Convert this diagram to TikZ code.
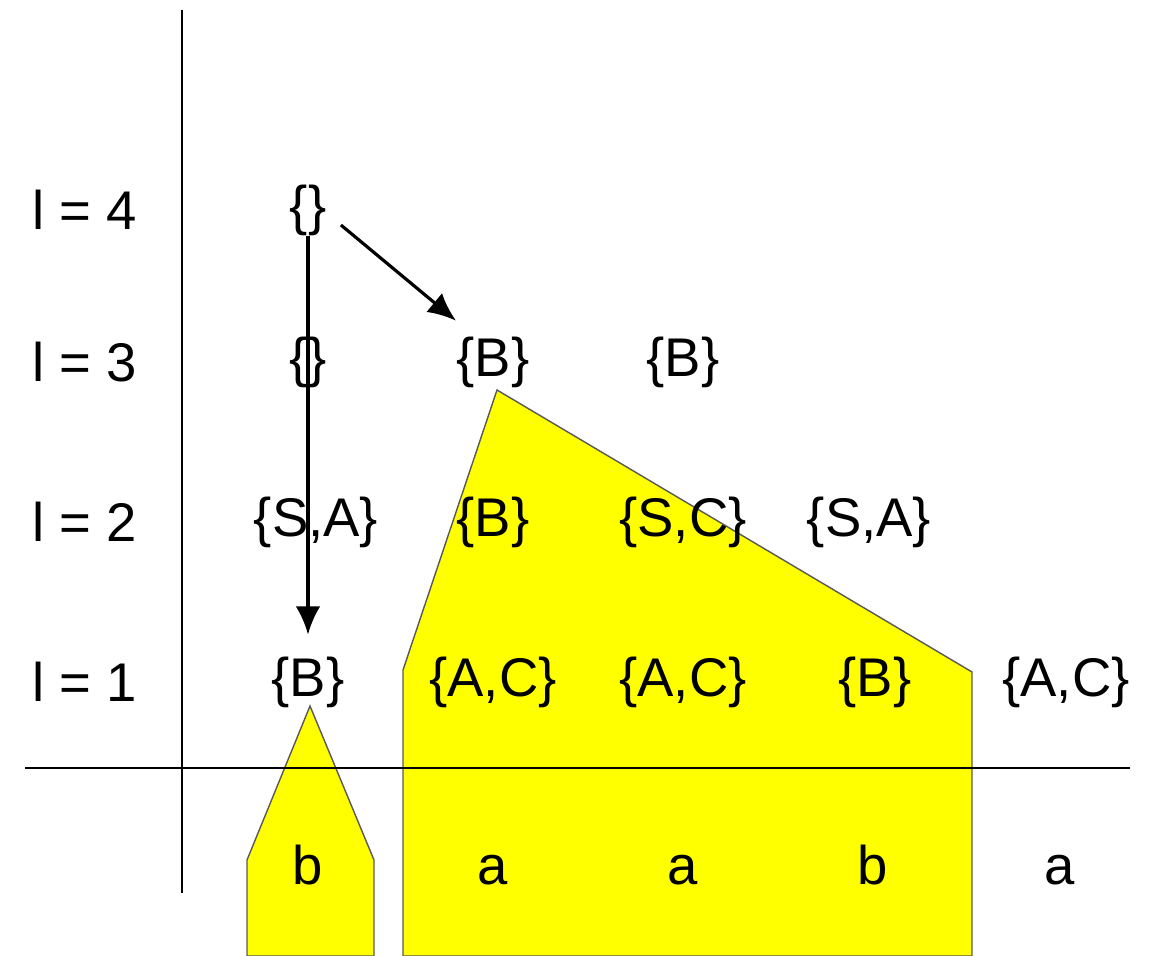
\documentclass[tikz,border=0pt]{standalone}
\usepackage{fontspec}
\setmainfont{Liberation Sans}
\usetikzlibrary{arrows.meta,positioning}
\definecolor{myyellow}{RGB}{255,255,0}
\colorlet{myink}{black}
\begin{document}
\begin{tikzpicture}[
    font=\fontsize{15.5}{18}\selectfont,
    cell/.style={inner sep=0pt, text height=11.3pt, text depth=3.3pt, text=myink},
    lvl/.style={inner sep=0pt, text=myink},
    axis/.style={line width=0.7pt, draw=myink},
    area/.style={fill=myyellow, draw=black!65, line width=0.4pt},
    arr/.style={-{Latex[length=8pt,width=7pt]}, line width=0.9pt, draw=myink},
  ]
  \useasboundingbox (0,0) rectangle (11.52,9.56);

  % ------------------------------------------------------------------ shaded spans
  \path[area] (2.47,0) -- (2.47,0.96) -- (3.10,2.50) -- (3.74,0.96) -- (3.74,0) -- cycle;
  \path[area] (4.03,0) -- (4.03,2.86) -- (4.97,5.66) -- (9.72,2.84) -- (9.72,0) -- cycle;

  % ------------------------------------------------------------------ axes
  \draw[axis] (1.82,9.46) -- (1.82,0.63);
  \draw[axis] (0.25,1.88) -- (11.30,1.88);

  % ------------------------------------------------------------------ level labels
  \foreach \n/\y in {1/2.74, 2/4.34, 3/5.94, 4/7.46}
    \node[lvl] (l\n) at (0.85,\y) {l = \n};

  % ------------------------------------------------------------------ table
  \node[cell] (n41) at (3.08,7.46) {\{\}};

  \node[cell] (n31) at (3.08,5.94) {\{\}};
  \node[cell] (n32) at (4.93,5.94) {\{B\}};
  \node[cell] (n33) at (6.83,5.94) {\{B\}};

  \node[cell] (n21) at (3.16,4.34) {\{S,A\}};
  \node[cell] (n22) at (4.93,4.34) {\{B\}};
  \node[cell] (n23) at (6.83,4.34) {\{S,C\}};
  \node[cell] (n24) at (8.69,4.34) {\{S,A\}};

  \node[cell] (n11) at (3.08,2.74) {\{B\}};
  \node[cell] (n12) at (4.93,2.74) {\{A,C\}};
  \node[cell] (n13) at (6.83,2.74) {\{A,C\}};
  \node[cell] (n14) at (8.75,2.74) {\{B\}};
  \node[cell] (n15) at (10.66,2.74) {\{A,C\}};

  % input word
  \foreach \w/\x [count=\i] in {b/3.08, a/4.93, a/6.83, b/8.73, a/10.60}
    \node[cell] (w\i) at (\x,0.86) {\w};

  % ------------------------------------------------------------------ back pointers
  \draw[arr] (n41.south) -- ([yshift=6pt]n11.north);
  \draw[arr] ([shift={(0.14cm,-0.15cm)}]n41.east) -- ([yshift=0.15cm]n32.north west);
\end{tikzpicture}
\end{document}
